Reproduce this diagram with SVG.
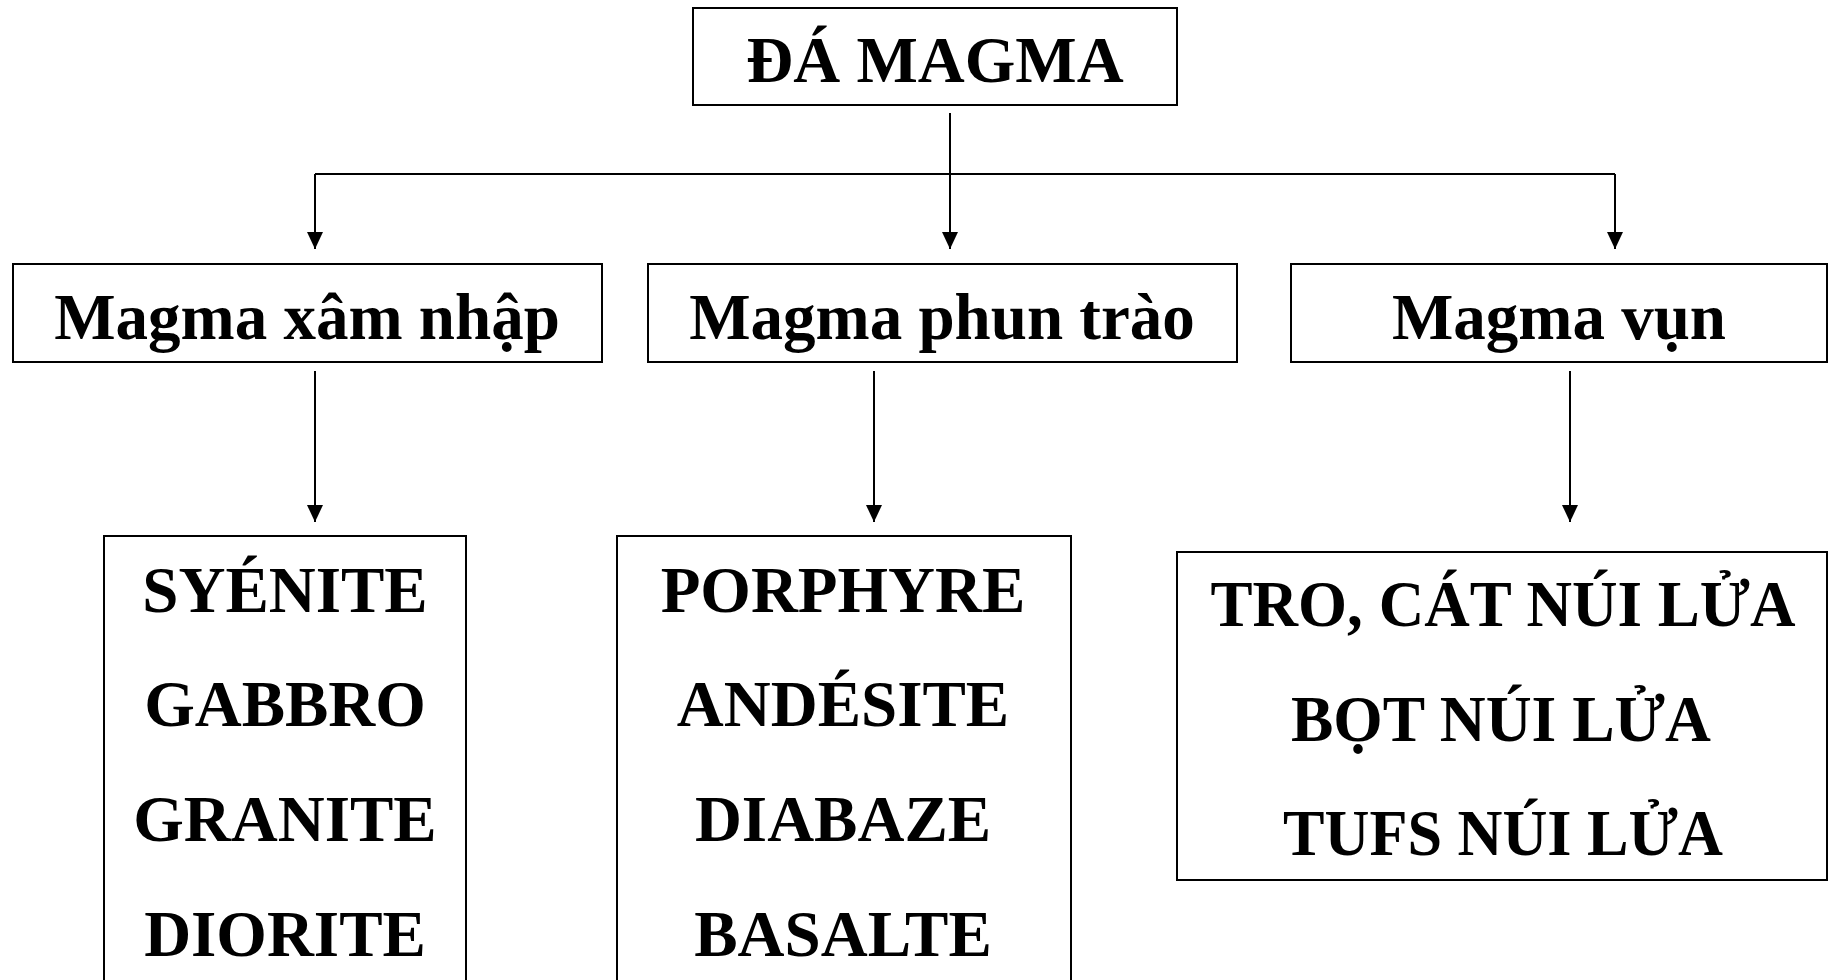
<svg xmlns="http://www.w3.org/2000/svg" width="1833" height="980" viewBox="0 0 1833 980">
<style>
.box{fill:#fff;stroke:#000;stroke-width:2}
.t{font-family:"Liberation Serif","Times New Roman",serif;font-weight:bold;font-size:65px;fill:#000;text-anchor:middle}
.c{fill:none;stroke:#000;stroke-width:2}
</style>
<defs>
<marker id="ah" markerUnits="userSpaceOnUse" markerWidth="18" markerHeight="18" refX="17" refY="8" orient="auto">
<path d="M0,0 L17,8 L0,16 z" fill="#000"/>
</marker>
</defs>
<rect width="1833" height="980" fill="#fff"/>
<g id="connectors">
<path class="c" d="M315,174 H1615"/>
<path class="c" d="M950,113 V249" marker-end="url(#ah)"/>
<path class="c" d="M315,174 V249" marker-end="url(#ah)"/>
<path class="c" d="M1615,174 V249" marker-end="url(#ah)"/>
<path class="c" d="M315,371 V522" marker-end="url(#ah)"/>
<path class="c" d="M874,371 V522" marker-end="url(#ah)"/>
<path class="c" d="M1570,371 V522" marker-end="url(#ah)"/>
</g>
<g id="n-root">
<rect class="box" x="693" y="8" width="484" height="97"/>
<text class="t" x="935" y="82">ĐÁ MAGMA</text>
</g>
<g id="n-xam-nhap">
<rect class="box" x="13" y="264" width="589" height="98"/>
<text class="t" x="307" y="339">Magma xâm nhập</text>
</g>
<g id="n-phun-trao">
<rect class="box" x="648" y="264" width="589" height="98"/>
<text class="t" x="942" y="339">Magma phun trào</text>
</g>
<g id="n-vun">
<rect class="box" x="1291" y="264" width="536" height="98"/>
<text class="t" x="1559" y="339">Magma vụn</text>
</g>
<g id="n-list1">
<rect class="box" x="104" y="536" width="362" height="460"/>
<text class="t" x="285" y="612">SYÉNITE</text>
<text class="t" x="285" y="726">GABBRO</text>
<text class="t" x="285" y="841">GRANITE</text>
<text class="t" x="285" y="956">DIORITE</text>
</g>
<g id="n-list2">
<rect class="box" x="617" y="536" width="454" height="460"/>
<text class="t" x="843" y="612">PORPHYRE</text>
<text class="t" x="843" y="726">ANDÉSITE</text>
<text class="t" x="843" y="841">DIABAZE</text>
<text class="t" x="843" y="956">BASALTE</text>
</g>
<g id="n-list3">
<rect class="box" x="1177" y="552" width="650" height="328"/>
<text class="t" x="1503" y="626" textLength="585" lengthAdjust="spacingAndGlyphs">TRO, CÁT NÚI LỬA</text>
<text class="t" x="1501" y="741" textLength="420" lengthAdjust="spacingAndGlyphs">BỌT NÚI LỬA</text>
<text class="t" x="1503" y="855" textLength="440" lengthAdjust="spacingAndGlyphs">TUFS NÚI LỬA</text>
</g>
</svg>
